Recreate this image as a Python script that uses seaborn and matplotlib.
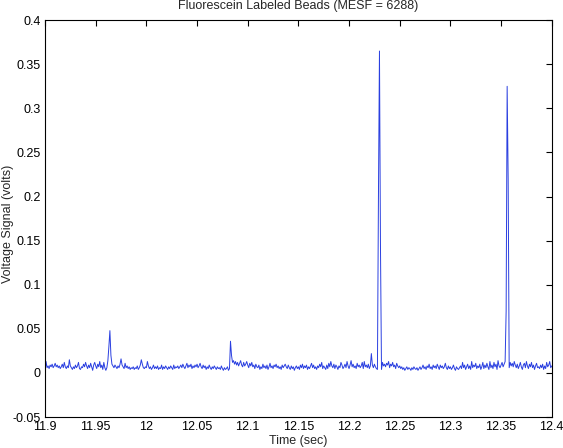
import numpy as np
import pandas as pd
import matplotlib
matplotlib.use("Agg")
import matplotlib.pyplot as plt
import seaborn as sns

t_start = 11.9
t_end = 12.4
signal_mv = [
    1, 13, 6, 8, 5, 9, 7, 10, 6, 8,
    11, 7, 9, 6, 8, 5, 7, 10, 6, 12,
    7, 5, 8, 6, 15, 8, 6, 4, 7, 5,
    9, 6, 8, 12, 5, 4, 7, 6, 10, 7,
    12, 8, 5, 9, 6, 11, 7, 3, 9, 12,
    8, 5, 10, 7, 13, 6, 9, 4, 12, 6,
    3, 6, 14, 30, 48, 20, 10, 8, 6, 9,
    7, 5, 8, 6, 10, 16, 9, 7, 5, 11,
    6, 8, 5, 7, 4, 6, 5, 7, 4, 6,
    5, 8, 4, 6, 9, 15, 10, 6, 5, 7,
    6, 13, 8, 5, 7, 4, 6, 9, 5, 7,
    5, 8, 4, 6, 5, 9, 4, 7, 5, 8,
    6, 4, 7, 5, 8, 6, 4, 9, 5, 7,
    6, 8, 5, 7, 9, 6, 10, 7, 5, 8,
    11, 6, 9, 7, 10, 5, 8, 6, 9, 7,
    10, 6, 8, 11, 7, 5, 9, 6, 8, 4,
    7, 5, 9, 6, 4, 7, 5, 8, 6, 4,
    7, 5, 6, 4, 8, 5, 3, 6, 4, 5,
    7, 3, 5, 36, 20, 12, 14, 10, 13, 9,
    12, 8, 11, 14, 9, 7, 12, 8, 10, 13,
    9, 6, 11, 8, 12, 7, 9, 5, 10, 7,
    6, 9, 4, 7, 5, 10, 6, 8, 5, 9,
    4, 7, 11, 6, 8, 5, 9, 7, 10, 6,
    8, 5, 7, 4, 9, 6, 8, 10, 7, 5,
    9, 6, 4, 8, 5, 7, 3, 6, 8, 5,
    7, 4, 9, 6, 10, 5, 8, 6, 9, 4,
    7, 5, 8, 11, 6, 9, 5, 7, 4, 8,
    6, 10, 7, 12, 5, 8, 6, 4, 9, 5,
    11, 7, 13, 8, 6, 10, 5, 9, 7, 4,
    8, 6, 12, 9, 5, 7, 10, 6, 13, 8,
    5, 9, 14, 7, 10, 6, 8, 5, 11, 7,
    9, 6, 8, 12, 5, 13, 7, 9, 6, 10,
    5, 8, 22, 9, 6, 10, 7, 5, 4, 200,
    365, 143, 4, 12, 8, 10, 7, 11, 9, 13,
    6, 10, 8, 12, 7, 9, 5, 11, 8, 6,
    8, 5, 7, 4, 6, 3, 5, 7, 4, 6,
    5, 3, 6, 4, 7, 5, 4, 6, 3, 5,
    7, 4, 6, 9, 5, 7, 4, 8, 6, 10,
    5, 7, 4, 9, 6, 8, 5, 10, 7, 4,
    9, 6, 8, 5, 7, 11, 6, 4, 8, 5,
    7, 4, 6, 9, 5, 3, 7, 5, 4, 6,
    8, 5, 12, 6, 9, 4, 7, 10, 5, 8,
    4, 13, 6, 9, 7, 11, 5, 8, 6, 10,
    4, 7, 12, 5, 9, 6, 11, 7, 4, 13,
    6, 9, 5, 12, 7, 10, 4, 14, 8, 6,
    9, 12, 7, 10, 13, 70, 325, 220, 6, 12,
    8, 11, 7, 13, 9, 6, 10, 5, 8, 12,
    7, 4, 9, 11, 6, 13, 8, 5, 10, 7,
    12, 6, 9, 4, 8, 11, 6, 7, 5, 9,
    6, 10, 4, 8, 5, 12, 7, 9, 13, 6, 8,
]

x_ticks = [11.9, 11.95, 12.0, 12.05, 12.1, 12.15, 12.2, 12.25, 12.3, 12.35, 12.4]
x_labels = ["11.9", "11.95", "12", "12.05", "12.1", "12.15", "12.2", "12.25", "12.3", "12.35", "12.4"]
y_ticks = [-0.05, 0, 0.05, 0.1, 0.15, 0.2, 0.25, 0.3, 0.35, 0.4]
y_labels = ["-0.05", "0", "0.05", "0.1", "0.15", "0.2", "0.25", "0.3", "0.35", "0.4"]

df = pd.DataFrame({
    "time": np.linspace(t_start, t_end, len(signal_mv)),
    "volts": np.array(signal_mv) / 1000.0,
})

sns.set_style("white")
plt.rcParams["font.family"] = ["Liberation Sans", "DejaVu Sans"]

fig = plt.figure(figsize=(5.63, 4.48), dpi=100)
ax = fig.add_axes([0.080, 0.069, 0.900, 0.886])
sns.lineplot(data=df, x="time", y="volts", ax=ax, color="#2a3fe0", linewidth=0.7)

ax.set_xlim(t_start, t_end)
ax.set_ylim(-0.05, 0.4)
ax.set_xticks(x_ticks)
ax.set_xticklabels(x_labels)
ax.set_yticks(y_ticks)
ax.set_yticklabels(y_labels)
ax.tick_params(direction="in", length=4, width=0.8, top=True, right=True,
               labelsize=9, colors="black", pad=3)
for s in ax.spines.values():
    s.set_color("black")
    s.set_linewidth(0.8)

ax.set_title("Fluorescein Labeled Beads (MESF = 6288)", fontsize=9, pad=8)
ax.set_xlabel("Time (sec)", fontsize=9, labelpad=1)
ax.set_ylabel("")
fig.text(8 / 563, 0.5, "Voltage Signal (volts)", rotation=90, fontsize=9,
         ha="center", va="center")

fig.savefig("out.png", dpi=100)
